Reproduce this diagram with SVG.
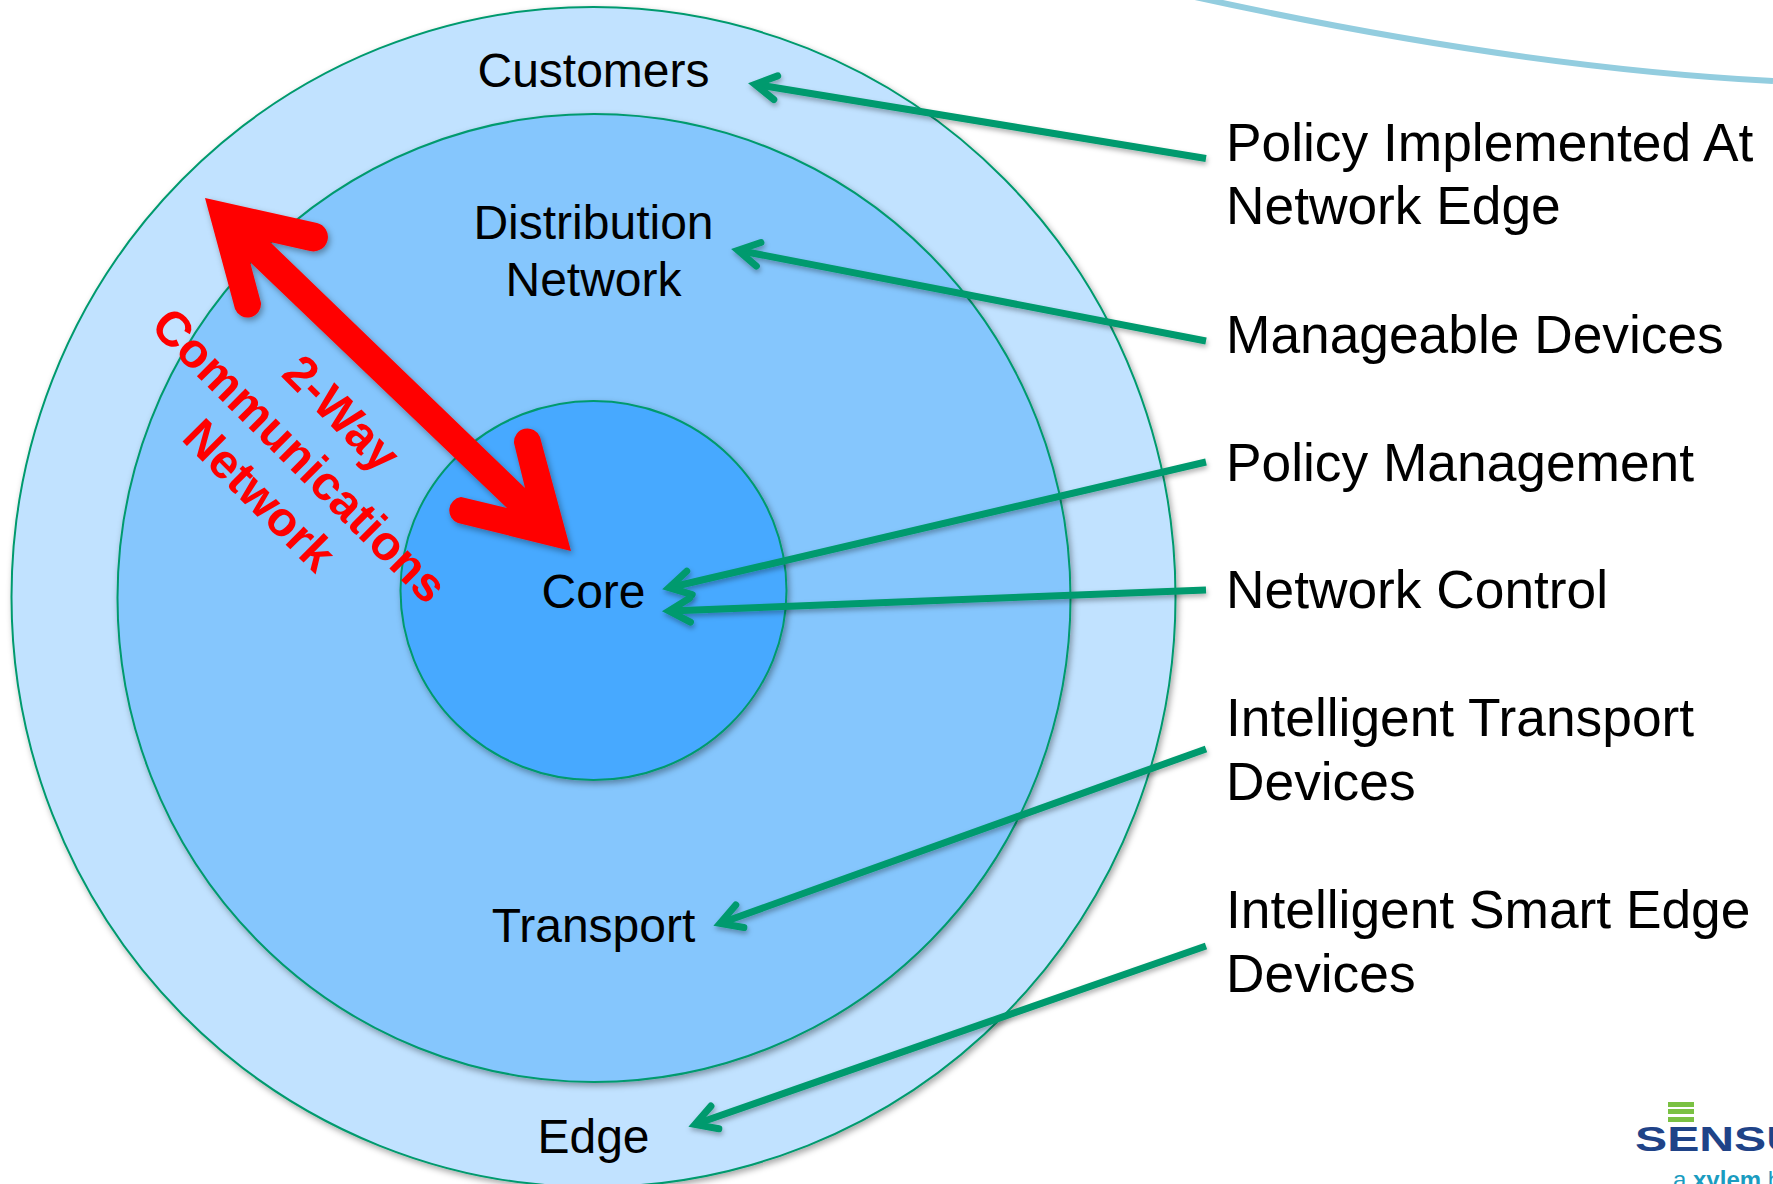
<svg xmlns="http://www.w3.org/2000/svg" width="1773" height="1184" viewBox="0 0 1773 1184">
<style>
text{font-family:"Liberation Sans",Arial,sans-serif}
.ring{stroke:#009a6e;stroke-width:2;filter:url(#sh)}
.lab{font-size:48px;fill:#000;text-anchor:middle}
.note{font-size:53.3px;fill:#000}
.red{font-size:48.5px;font-weight:bold;fill:#f00;text-anchor:middle}
.con{stroke:#009a6e;stroke-width:7;fill:none;marker-end:url(#vee);filter:url(#lsh)}
</style>
<defs>
<filter id="sh" x="-10%" y="-10%" width="120%" height="120%"><feDropShadow dx="2" dy="3" stdDeviation="3" flood-color="#000" flood-opacity=".35"/></filter>
<filter id="lsh" filterUnits="userSpaceOnUse" x="600" y="40" width="660" height="1120"><feDropShadow dx="1" dy="3" stdDeviation="2.5" flood-color="#000" flood-opacity=".3"/></filter>
<marker id="vee" markerUnits="userSpaceOnUse" markerWidth="40" markerHeight="40" refX="24" refY="15" orient="auto" overflow="visible"><path d="M4,3 L25,15 L4,27" fill="none" stroke="#009a6e" stroke-width="7" stroke-linecap="round" stroke-linejoin="miter"/></marker>
</defs>
<rect width="1773" height="1184" fill="#fff"/>
<path id="swoosh" d="M1195,-3 C1400,42 1600,72 1773,81" fill="none" stroke="#93cddf" stroke-width="6"/>
<g id="edge-ring"><ellipse class="ring" cx="593.5" cy="597" rx="582" ry="590" fill="#c1e2ff"/><text class="lab" x="593.5" y="87">Customers</text><text class="lab" x="593.5" y="1153">Edge</text></g>
<g id="transport-ring"><ellipse class="ring" cx="594" cy="598" rx="476.5" ry="484" fill="#85c6fd"/><text class="lab" x="593.5" y="239">Distribution</text><text class="lab" x="593.5" y="296">Network</text><text class="lab" x="593.5" y="942">Transport</text></g>
<g id="core"><ellipse class="ring" cx="593.5" cy="590.5" rx="193" ry="189.5" fill="#47a9ff"/><text class="lab" x="593.5" y="608">Core</text></g>
<g id="connectors">
<line class="con" x1="1206" y1="158.5" x2="756" y2="84.5"/>
<line class="con" x1="1206" y1="341" x2="739" y2="250.5"/>
<line class="con" x1="1206" y1="462" x2="670" y2="587.5"/>
<line class="con" x1="1206" y1="590" x2="670" y2="611"/>
<line class="con" x1="1206" y1="749" x2="721" y2="923"/>
<line class="con" x1="1206" y1="946" x2="696" y2="1124"/>
</g>
<g id="two-way-arrow"><path filter="url(#sh)" fill="#f00" d="M205,198 L317,223 A14,14 0 0 1 310,251 L270,242 L525,488 L514,443 A13.5,13.5 0 0 1 540,437 L571,551 L458,523 A13.5,13.5 0 0 1 461,497 L507,508 L250,262 L261,303 A13.5,13.5 0 0 1 235,309 Z"/></g>
<g id="two-way-label">
<text class="red" transform="translate(342,413) rotate(45)" y="17">2-Way</text>
<text class="red" transform="translate(300,455) rotate(45)" y="17">Communications</text>
<text class="red" transform="translate(260,495) rotate(45)" y="17">Network</text>
</g>
<g id="notes">
<text class="note" x="1226" y="161">Policy Implemented At</text><text class="note" x="1226" y="224">Network Edge</text>
<text class="note" x="1226" y="353">Manageable Devices</text>
<text class="note" x="1226" y="481">Policy Management</text>
<text class="note" x="1226" y="608">Network Control</text>
<text class="note" x="1226" y="736">Intelligent Transport</text><text class="note" x="1226" y="800">Devices</text>
<text class="note" x="1226" y="928">Intelligent Smart Edge</text><text class="note" x="1226" y="992">Devices</text>
</g>
<g id="logo">
<rect x="1668" y="1102" width="26" height="5" fill="#7ac143"/><rect x="1668" y="1109" width="26" height="5" fill="#7ac143"/><rect x="1668" y="1117" width="26" height="5" fill="#7ac143"/>
<text x="1635" y="1151" font-size="35" font-weight="bold" fill="#1f4388" textLength="166" lengthAdjust="spacingAndGlyphs">SENSU</text>
<text x="1673" y="1188" font-size="24" fill="#1a9cc0">a <tspan font-weight="bold">xylem</tspan> b</text>
</g>
</svg>
